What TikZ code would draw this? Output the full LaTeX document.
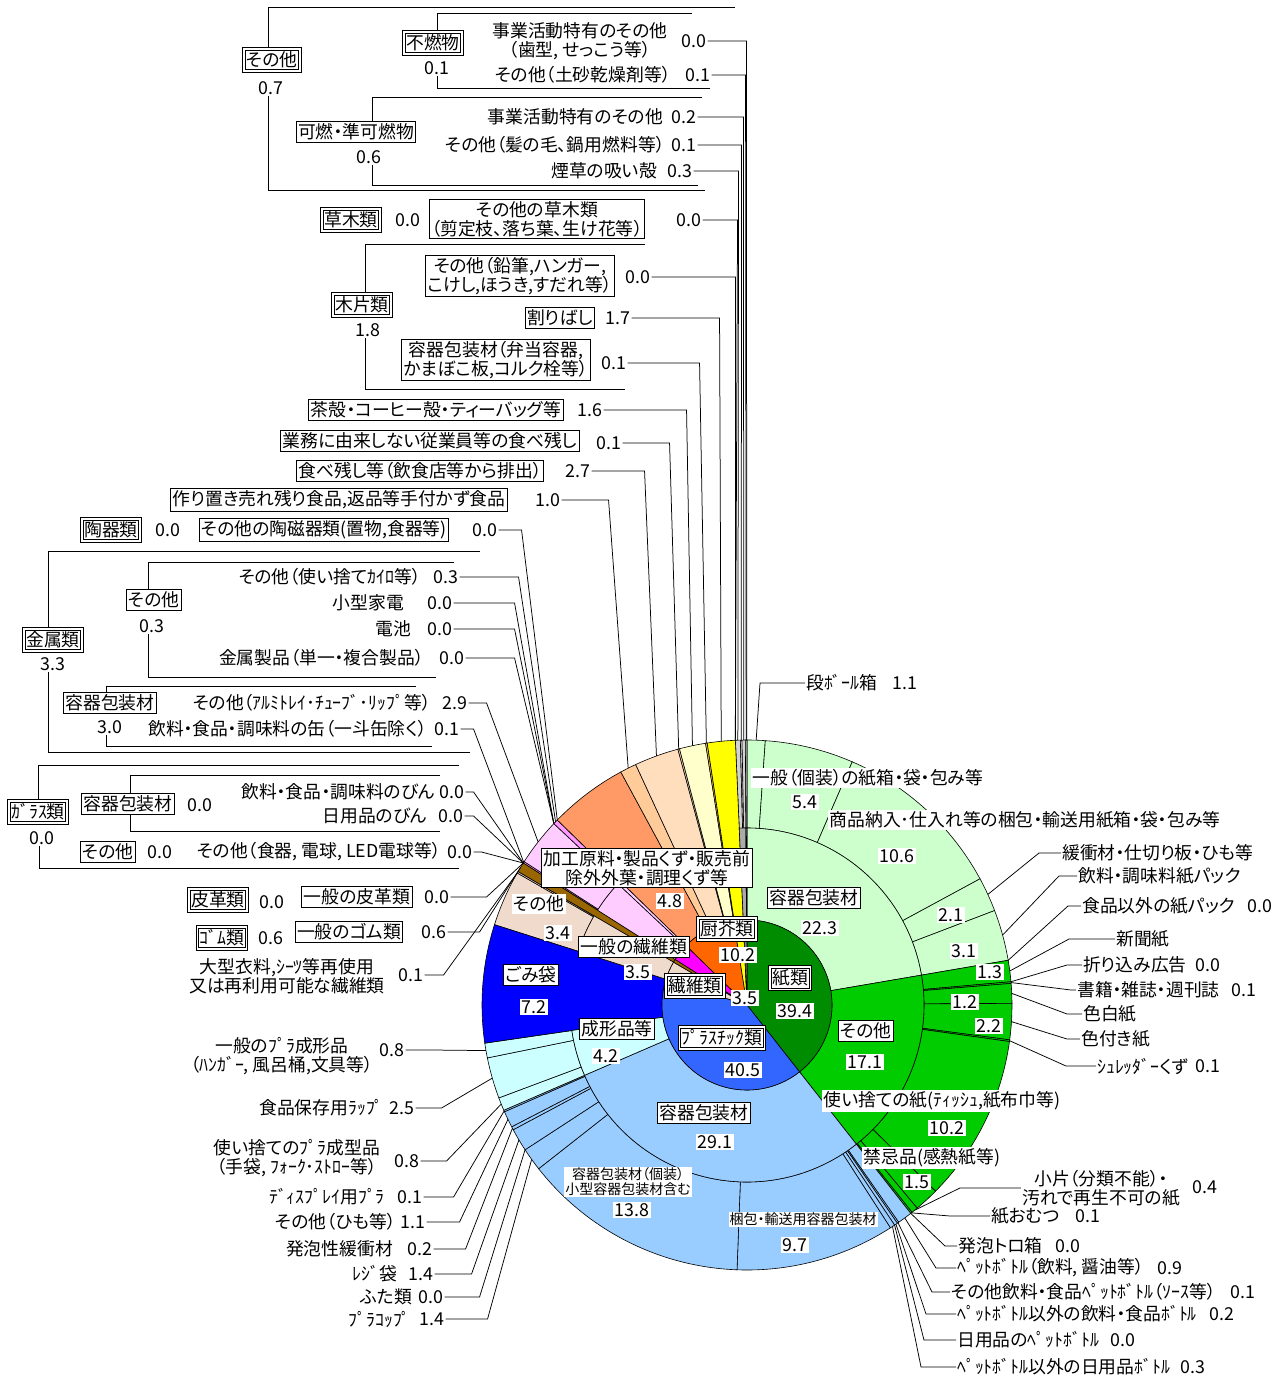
\documentclass[tikz,border=0pt]{standalone}
\usepackage{fontspec}
\setmainfont{Noto Sans CJK JP}[RawFeature=+palt]
\usetikzlibrary{calc}
\newcommand\lfs{\fontsize{17.8pt}{19.2pt}\selectfont}
\newcommand\sfs{\fontsize{14pt}{15pt}\selectfont}
\definecolor{pdark}{RGB}{0,140,0}
\definecolor{pgreen}{RGB}{0,204,0}
\definecolor{plight}{RGB}{204,255,204}
\definecolor{bdark}{RGB}{51,102,255}
\definecolor{blight}{RGB}{153,204,255}
\definecolor{bcyan}{RGB}{204,255,255}
\definecolor{gomi}{RGB}{0,0,255}
\definecolor{fib}{RGB}{240,218,204}
\definecolor{rub}{RGB}{153,102,0}
\definecolor{metI}{RGB}{255,0,255}
\definecolor{metL}{RGB}{255,204,255}
\definecolor{metM}{RGB}{255,153,255}
\definecolor{kitI}{RGB}{255,102,0}
\definecolor{kitA}{RGB}{255,153,102}
\definecolor{kitB}{RGB}{255,204,153}
\definecolor{kitC}{RGB}{255,222,190}
\definecolor{kitD}{RGB}{255,255,204}
\definecolor{wood}{RGB}{255,255,0}
\definecolor{woodB}{RGB}{255,204,102}
\definecolor{othA}{RGB}{128,128,128}
\definecolor{othB}{RGB}{170,170,170}
\definecolor{othC}{RGB}{210,210,210}
\tikzset{
 wl/.style={draw=black,line width=0.6pt},
 ld/.style={draw=black,line width=0.75pt},
 br/.style={draw=black,line width=1pt},
 tx/.style={inner sep=1pt,font=\lfs},
 txc/.style={inner sep=1pt,font=\lfs,align=center},
 bx/.style={draw=black,fill=white,line width=0.9pt,inner sep=2pt,font=\lfs},
 bxc/.style={bx,align=center},
 dbx/.style={draw=black,fill=white,line width=0.9pt,inner xsep=3.6pt,inner ysep=4pt,font=\lfs,
   path picture={\draw[black,line width=0.9pt] ([shift={(2.4pt,-2.4pt)}]path picture bounding box.north west) rectangle ([shift={(-2.4pt,2.4pt)}]path picture bounding box.south east);}},
 wb/.style={fill=white,inner sep=1.5pt,font=\lfs},
 wbs/.style={fill=white,inner sep=1pt,font=\sfs,align=center},
}
\newcommand\pseg[4]{\filldraw[fill=#4,wl] (0,0) -- ({3.6*(#2)-90}:#1) arc[start angle={3.6*(#2)-90},end angle={3.6*(#3)-90},radius=#1] -- cycle;}
\newcommand\rseg[5]{\filldraw[fill=#5,wl] ({3.6*(#3)-90}:#1) arc[start angle={3.6*(#3)-90},end angle={3.6*(#4)-90},radius=#1] -- ({3.6*(#4)-90}:#2) arc[start angle={3.6*(#4)-90},end angle={3.6*(#3)-90},radius=#2] -- cycle;}
\newcommand\tgt[2]{\coordinate (#1) at ({3.6*(#2)-90}:265);}
\begin{document}
\begin{tikzpicture}[x=1pt,y=-1pt]
\useasboundingbox (0,0) rectangle (1284,1381);
\fill[white] (0,0) rectangle (1284,1381);
\begin{scope}[shift={(747,1005)}]
% outer ring
\rseg{177}{265}{0}{1.1}{plight}
\rseg{177}{265}{1.1}{6.5}{plight}
\rseg{177}{265}{6.5}{17.1}{plight}
\rseg{177}{265}{17.1}{19.2}{plight}
\rseg{177}{265}{19.2}{22.3}{plight}
\rseg{177}{265}{22.3}{23.6}{pgreen}
\rseg{177}{265}{23.6}{23.7}{pgreen}
\rseg{177}{265}{23.7}{24.9}{pgreen}
\rseg{177}{265}{24.9}{27.1}{pgreen}
\rseg{177}{265}{27.1}{27.2}{pgreen}
\rseg{177}{265}{27.2}{37.4}{pgreen}
\rseg{177}{265}{37.4}{38.9}{pgreen}
\rseg{177}{265}{38.9}{39.3}{pgreen}
\rseg{177}{265}{39.3}{39.4}{pgreen}
\rseg{177}{265}{39.4}{40.3}{blight}
\rseg{177}{265}{40.3}{40.4}{blight}
\rseg{177}{265}{40.4}{40.6}{blight}
\rseg{177}{265}{40.6}{40.9}{blight}
\rseg{177}{265}{40.9}{50.6}{blight}
\rseg{177}{265}{50.6}{64.4}{blight}
\rseg{177}{265}{64.4}{65.8}{blight}
\rseg{177}{265}{65.8}{67.2}{blight}
\rseg{177}{265}{67.2}{67.4}{blight}
\rseg{177}{265}{67.4}{68.4}{blight}
\rseg{177}{265}{68.4}{68.5}{blight}
\rseg{177}{265}{68.5}{69.3}{bcyan}
\rseg{177}{265}{69.3}{71.8}{bcyan}
\rseg{177}{265}{71.8}{72.7}{bcyan}
\rseg{177}{265}{79.9}{83.3}{fib}
\rseg{177}{265}{83.3}{83.4}{fib}
\rseg{177}{265}{84.0}{84.1}{metM}
\rseg{177}{265}{84.1}{87.0}{metL}
\rseg{177}{265}{87.0}{87.3}{metM}
\rseg{177}{265}{99.3}{99.6}{othC}
\rseg{177}{265}{99.6}{99.7}{othC}
\rseg{177}{265}{99.7}{99.9}{othC}
\rseg{177}{265}{99.9}{100}{othC}
% spanning
\rseg{85}{265}{72.7}{79.9}{gomi}
\rseg{85}{265}{83.4}{84.0}{rub}
\rseg{85}{265}{87.3}{92.1}{kitA}
\rseg{85}{265}{92.1}{93.1}{kitB}
\rseg{85}{265}{93.1}{95.8}{kitC}
\rseg{85}{265}{95.8}{95.9}{kitC}
\rseg{85}{265}{95.9}{97.5}{kitD}
\rseg{85}{265}{97.5}{97.6}{woodB}
\rseg{85}{265}{97.6}{99.3}{wood}
% middle ring
\rseg{85}{177}{0}{22.3}{plight}
\rseg{85}{177}{22.3}{39.4}{pgreen}
\rseg{85}{177}{39.4}{68.5}{blight}
\rseg{85}{177}{68.5}{72.7}{bcyan}
\rseg{85}{177}{79.9}{83.4}{fib}
\rseg{85}{177}{84.0}{87.0}{metL}
\rseg{85}{177}{87.0}{87.3}{metL}
\rseg{85}{177}{99.3}{99.9}{othB}
\rseg{85}{177}{99.9}{100}{othB}
% inner pie
\pseg{85}{0}{39.4}{pdark}
\pseg{85}{39.4}{79.9}{bdark}
\pseg{85}{79.9}{83.4}{fib}
\pseg{85}{83.4}{84.0}{rub}
\pseg{85}{84.0}{87.3}{metI}
\pseg{85}{87.3}{97.5}{kitI}
\pseg{85}{97.5}{99.3}{wood}
\pseg{85}{99.3}{100}{othA}
% leader targets
\tgt{tA1}{99.98}\tgt{tA2}{99.95}\tgt{tA3}{99.8}\tgt{tA4}{99.65}\tgt{tA5}{99.45}
\tgt{tA6}{99.3}\tgt{tA7}{99.3}\tgt{tA8}{98.45}\tgt{tA9}{97.55}\tgt{tA10}{96.7}
\tgt{tA11}{95.85}\tgt{tA12}{94.45}\tgt{tA13}{92.6}\tgt{tA14}{87.3}
\tgt{tM1}{87.15}\tgt{tM2}{87.0}\tgt{tM3}{87.0}\tgt{tM4}{87.0}\tgt{tM5}{85.55}\tgt{tM6}{84.05}
\tgt{tG1}{84.0}\tgt{tG2}{84.0}\tgt{tG3}{84.0}\tgt{tL}{84.0}\tgt{tR}{83.7}\tgt{tF}{83.35}
\tgt{tP1}{72.25}\tgt{tP2}{70.55}\tgt{tP3}{68.9}\tgt{tP4}{68.45}\tgt{tP5}{67.9}
\tgt{tP6}{67.3}\tgt{tP7}{66.5}\tgt{tP8}{65.8}\tgt{tP9}{65.1}
\tgt{tK1}{0.55}\tgt{tK2}{18.15}\tgt{tK3}{20.75}\tgt{tK4}{22.3}\tgt{tK5}{22.95}
\tgt{tK6}{23.6}\tgt{tK7}{23.65}\tgt{tK8}{24.3}\tgt{tK9}{26.0}\tgt{tK10}{27.15}
\tgt{tK11}{39.1}\tgt{tK12}{39.35}
\tgt{tB1}{39.4}\tgt{tB2}{39.85}\tgt{tB3}{40.35}\tgt{tB4}{40.5}\tgt{tB5}{40.6}\tgt{tB6}{40.75}
\end{scope}

% ===== left labels: top group
\node[txc] (a1) at (580,41) {事業活動特有のその他\\（歯型, せっこう等）};
\node[tx] (a1n) at (694,41) {0.0};
\node[tx,anchor=east] (a2) at (672,75) {その他（土砂乾燥剤等）};
\node[tx] (a2n) at (698,75) {0.1};
\node[dbx] (g1) at (272,60) {その他};
\node[tx] (g1n) at (271,88) {0.7};
\node[dbx] (g2) at (433,43) {不燃物};
\node[tx] (g2n) at (437,68) {0.1};
\node[bx] (g3) at (356,132) {可燃・準可燃物};
\node[tx] (g3n) at (369,157) {0.6};
\node[tx,anchor=east] (a3) at (664,117) {事業活動特有のその他};
\node[tx] (a3n) at (684,117) {0.2};
\node[tx,anchor=east] (a4) at (666,145) {その他（髪の毛、鍋用燃料等）};
\node[tx] (a4n) at (684,145) {0.1};
\node[tx,anchor=east] (a5) at (658,171) {煙草の吸い殻};
\node[tx] (a5n) at (680,171) {0.3};
\node[dbx] (g4) at (351,220) {草木類};
\node[tx] (g4n) at (408,220) {0.0};
\node[bxc] (a6) at (537,219) {その他の草木類\\（剪定枝、落ち葉、生け花等）};
\node[tx] (a6n) at (689,220) {0.0};
\node[dbx] (g5) at (362,305) {木片類};
\node[tx] (g5n) at (368,330) {1.8};
\node[bxc] (a7) at (520,276) {その他（鉛筆,ハンガー,\\こけし,ほうき,すだれ等）};
\node[tx] (a7n) at (638,277) {0.0};
\node[bx] (a8) at (560,318) {割りばし};
\node[tx] (a8n) at (618,318) {1.7};
\node[bxc] (a9) at (496,360) {容器包装材（弁当容器,\\かまぼこ板,コルク栓等）};
\node[tx] (a9n) at (614,363) {0.1};
\node[bx] (a10) at (436,410) {茶殻・コーヒー殻・ティーバッグ等};
\node[tx] (a10n) at (590,410) {1.6};
\node[bx] (a11) at (430,441) {業務に由来しない従業員等の食べ残し};
\node[tx] (a11n) at (609,443) {0.1};
\node[bx] (a12) at (420,471) {食べ残し等（飲食店等から排出）};
\node[tx] (a12n) at (578,471) {2.7};
\node[bx] (a13) at (339,500) {作り置き売れ残り食品,返品等手付かず食品};
\node[tx] (a13n) at (548,500) {1.0};
\node[dbx] (g6) at (111,530) {陶器類};
\node[tx] (g6n) at (168,530) {0.0};
\node[bx] (a14) at (324,530) {その他の陶磁器類(置物,食器等)};
\node[tx] (a14n) at (485,530) {0.0};
% metal
\node[dbx] (g7) at (53,640) {金属類};
\node[tx] (g7n) at (53,664) {3.3};
\node[bx] (g8) at (154,600) {その他};
\node[tx] (g8n) at (152,626) {0.3};
\node[tx,anchor=east] (m1) at (422,577) {その他（使い捨てｶｲﾛ等）};
\node[tx] (m1n) at (446,577) {0.3};
\node[tx,anchor=east] (m2) at (405,603) {小型家電};
\node[tx] (m2n) at (440,603) {0.0};
\node[tx,anchor=east] (m3) at (412,629) {電池};
\node[tx] (m3n) at (440,629) {0.0};
\node[tx,anchor=east] (m4) at (425,658) {金属製品（単一・複合製品）};
\node[tx] (m4n) at (452,658) {0.0};
\node[bx] (g9) at (110,703) {容器包装材};
\node[tx] (g9n) at (110,727) {3.0};
\node[tx,anchor=east] (m5) at (432,703) {その他（ｱﾙﾐﾄﾚｲ･ﾁｭｰﾌﾞ･ﾘｯﾌﾟ等）};
\node[tx] (m5n) at (455,703) {2.9};
\node[tx,anchor=east] (m6) at (428,729) {飲料・食品・調味料の缶（一斗缶除く）};
\node[tx] (m6n) at (447,729) {0.1};
% glass
\node[dbx] (g10) at (38,812) {ｶﾞﾗｽ類};
\node[tx] (g10n) at (42,838) {0.0};
\node[bx] (g11) at (128,804) {容器包装材};
\node[tx] (g11n) at (200,805) {0.0};
\node[tx,anchor=east] (v1) at (436,792) {飲料・食品・調味料のびん};
\node[tx] (v1n) at (452,792) {0.0};
\node[tx,anchor=east] (v2) at (428,816) {日用品のびん};
\node[tx] (v2n) at (451,816) {0.0};
\node[bx] (g12) at (108,852) {その他};
\node[tx] (g12n) at (160,852) {0.0};
\node[tx,anchor=east] (v3) at (442,852) {その他（食器, 電球, LED電球等）};
\node[tx] (v3n) at (460,852) {0.0};
% leather, rubber, fibre
\node[dbx] (g13) at (218,900) {皮革類};
\node[tx] (g13n) at (272,902) {0.0};
\node[bx] (r1) at (357,897) {一般の皮革類};
\node[tx] (r1n) at (437,897) {0.0};
\node[dbx] (g14) at (222,938) {ｺﾞﾑ類};
\node[tx] (g14n) at (271,938) {0.6};
\node[bx] (r2) at (349,932) {一般のゴム類};
\node[tx] (r2n) at (434,932) {0.6};
\node[txc] (r3) at (287,976) {大型衣料,ｼｰﾂ等再使用\\又は再利用可能な繊維類};
\node[tx] (r3n) at (411,975) {0.1};
% plastics left
\node[txc] (p1) at (282,1056) {一般のﾌﾟﾗ成形品\\（ﾊﾝｶﾞｰ, 風呂桶,文具等）};
\node[tx] (p1n) at (392,1050) {0.8};
\node[tx,anchor=east] (p2) at (385,1108) {食品保存用ﾗｯﾌﾟ};
\node[tx] (p2n) at (402,1108) {2.5};
\node[txc] (p3) at (297,1158) {使い捨てのﾌﾟﾗ成型品\\（手袋, ﾌｫｰｸ･ｽﾄﾛｰ等）};
\node[tx] (p3n) at (407,1161) {0.8};
\node[tx,anchor=east] (p4) at (386,1197) {ﾃﾞｨｽﾌﾟﾚｲ用ﾌﾟﾗ};
\node[tx] (p4n) at (410,1197) {0.1};
\node[tx,anchor=east] (p5) at (397,1222) {その他（ひも等）};
\node[tx] (p5n) at (413,1222) {1.1};
\node[tx,anchor=east] (p6) at (394,1249) {発泡性緩衝材};
\node[tx] (p6n) at (420,1249) {0.2};
\node[tx,anchor=east] (p7) at (398,1274) {ﾚｼﾞ袋};
\node[tx] (p7n) at (421,1274) {1.4};
\node[tx,anchor=east] (p8) at (413,1297) {ふた類};
\node[tx] (p8n) at (431,1297) {0.0};
\node[tx,anchor=east] (p9) at (412,1319) {ﾌﾟﾗｺｯﾌﾟ};
\node[tx] (p9n) at (432,1319) {1.4};
% right labels
\node[tx,anchor=west] (k1) at (805,683) {段ﾎﾞｰﾙ箱};
\node[tx] (k1n) at (905,683) {1.1};
\node[tx,anchor=west] (k2) at (1061,853) {緩衝材・仕切り板・ひも等};
\node[tx,anchor=west] (k3) at (1077,876) {飲料・調味料紙パック};
\node[tx,anchor=west] (k4) at (1081,906) {食品以外の紙パック};
\node[tx] (k4n) at (1260,906) {0.0};
\node[tx,anchor=west] (k5) at (1115,939) {新聞紙};
\node[tx,anchor=west] (k6) at (1082,965) {折り込み広告};
\node[tx] (k6n) at (1208,965) {0.0};
\node[tx,anchor=west] (k7) at (1076,990) {書籍・雑誌・週刊誌};
\node[tx] (k7n) at (1244,990) {0.1};
\node[tx,anchor=west] (k8) at (1082,1014) {色白紙};
\node[tx,anchor=west] (k9) at (1080,1039) {色付き紙};
\node[tx,anchor=west] (k10) at (1096,1066) {ｼｭﾚｯﾀﾞｰくず};
\node[tx] (k10n) at (1208,1066) {0.1};
\node[txc] (k11) at (1101,1188) {小片（分類不能）・\\汚れで再生不可の紙};
\node[tx] (k11n) at (1205,1187) {0.4};
\node[tx,anchor=west] (k12) at (990,1216) {紙おむつ};
\node[tx] (k12n) at (1088,1216) {0.1};
\node[tx,anchor=west] (b1) at (957,1246) {発泡トロ箱};
\node[tx] (b1n) at (1068,1246) {0.0};
\node[tx,anchor=west] (b2) at (956,1268) {ﾍﾟｯﾄﾎﾞﾄﾙ（飲料, 醤油等）};
\node[tx] (b2n) at (1170,1268) {0.9};
\node[tx,anchor=west] (b3) at (950,1292) {その他飲料・食品ﾍﾟｯﾄﾎﾞﾄﾙ（ｿｰｽ等）};
\node[tx] (b3n) at (1243,1292) {0.1};
\node[tx,anchor=west] (b4) at (956,1314) {ﾍﾟｯﾄﾎﾞﾄﾙ以外の飲料・食品ﾎﾞﾄﾙ};
\node[tx] (b4n) at (1222,1314) {0.2};
\node[tx,anchor=west] (b5) at (956,1340) {日用品のﾍﾟｯﾄﾎﾞﾄﾙ};
\node[tx] (b5n) at (1123,1340) {0.0};
\node[tx,anchor=west] (b6) at (956,1367) {ﾍﾟｯﾄﾎﾞﾄﾙ以外の日用品ﾎﾞﾄﾙ};
\node[tx] (b6n) at (1193,1367) {0.3};

% ===== brackets
\draw[br] ([xshift=-4pt]g1.north) |- (735,8);
\draw[br] ([xshift=-3pt]g1n.south) |- (705,190);
\draw[br] ([xshift=4pt]g2.north) |- (692,14);
\draw[br] (g2n.south) |- (710,88);
\draw[br] ([xshift=16pt]g3.north) |- (702,97);
\draw[br] ([xshift=3pt]g3n.south) |- (698,185);
\draw[br] ([xshift=3pt]g5.north) |- (645,244);
\draw[br] ([xshift=-3pt]g5n.south) |- (625,389);
\draw[br] ([xshift=-5pt]g7.north) |- (480,551);
\draw[br] ([xshift=-5pt]g7n.south) |- (470,752);
\draw[br] ([xshift=-6pt]g8.north) |- (454,562);
\draw[br] ([xshift=-4pt]g8n.south) |- (436,677);
\draw[br] ([xshift=-4pt]g9.north) |- (416,686);
\draw[br] ([xshift=-4pt]g9n.south) |- (432,746);
\draw[br] (g10.north) |- (459,765);
\draw[br] ([xshift=-3pt]g10n.south) |- (459,868);
\draw[br] ([xshift=2pt]g11.north) |- (440,775);
\draw[br] ([xshift=2pt]g11.south) |- (440,831);

% ===== leader lines
\draw[ld] (a1n.east) -- ++(39,0) -- (tA1);
\draw[ld] (a2n.east) -- ++(34,0) -- (tA2);
\draw[ld] (a3n.east) -- ++(46,0) -- (tA3);
\draw[ld] (a4n.east) -- ++(44,0) -- (tA4);
\draw[ld] (a5n.east) -- ++(45,0) -- (tA5);
\draw[ld] (a6n.east) -- ++(35,0) -- (tA6);
\draw[ld] (a7n.east) -- ++(84,0) -- (tA7);
\draw[ld] (a8n.east) -- ++(88,0) -- (tA8);
\draw[ld] (a9n.east) -- ++(72,0) -- (tA9);
\draw[ld] (a10n.east) -- ++(83,0) -- (tA10);
\draw[ld] (a11n.east) -- ++(47,0) -- (tA11);
\draw[ld] (a12n.east) -- ++(53,0) -- (tA12);
\draw[ld] (a13n.east) -- ++(47,0) -- (tA13);
\draw[ld] (a14n.east) -- ++(23,0) -- (tA14);
\draw[ld] (m1n.east) -- ++(59,0) -- (tM1);
\draw[ld] (m2n.east) -- ++(61,0) -- (tM2);
\draw[ld] (m3n.east) -- ++(61,0) -- (tM3);
\draw[ld] (m4n.east) -- ++(49,0) -- (tM4);
\draw[ld] (m5n.east) -- ++(18,0) -- (tM5);
\draw[ld] (m6n.east) -- ++(13,0) -- (tM6);
\draw[ld] (v1n.east) -- ++(8,0) -- (tG1);
\draw[ld] (v2n.east) -- ++(9,0) -- (tG2);
\draw[ld] (v3n.east) -- ++(8,0) -- (tG3);
\draw[ld] (r1n.east) -- ++(36,0) -- (tL);
\draw[ld] (r2n.east) -- ++(32,0) -- (tR);
\draw[ld] (r3n.east) -- ++(19,0) -- (tF);
\draw[ld] (p1n.east) -- ++(26,0) -- (tP1);
\draw[ld] (p2n.east) -- ++(26,0) -- (tP2);
\draw[ld] (p3n.east) -- ++(26,0) -- (tP3);
\draw[ld] (p4n.east) -- ++(30,0) -- (tP4);
\draw[ld] (p5n.east) -- ++(33,0) -- (tP5);
\draw[ld] (p6n.east) -- ++(32,0) -- (tP6);
\draw[ld] (p7n.east) -- ++(37,0) -- (tP7);
\draw[ld] (p8n.east) -- ++(35,0) -- (tP8);
\draw[ld] (p9n.east) -- ++(42,0) -- (tP9);
\draw[ld] (k1.west) -- ++(-45,0) -- (tK1);
\draw[ld] (k2.west) -- ++(-22,0) -- (tK2);
\draw[ld] (k3.west) -- ++(-18,0) -- (tK3);
\draw[ld] (k4.west) -- ++(-13,0) -- (tK4);
\draw[ld] (k5.west) -- ++(-46,0) -- (tK5);
\draw[ld] (k6.west) -- ++(-15,0) -- (tK6);
\draw[ld] (k7.west) -- ++(-5,0) -- (tK7);
\draw[ld] (k8.west) -- ++(-15,0) -- (tK8);
\draw[ld] (k9.west) -- ++(-13,0) -- (tK9);
\draw[ld] (k10.west) -- ++(-30,0) -- (tK10);
\draw[ld] (k11.west) -- ++(-61,0) -- (tK11);
\draw[ld] (k12.west) -- ++(-40,0) -- (tK12);
\draw[ld] (b1.west) -- ++(-12,0) -- (tB1);
\draw[ld] (b2.west) -- ++(-20,0) -- (tB2);
\draw[ld] (b3.west) -- ++(-18,0) -- (tB3);
\draw[ld] (b4.west) -- ++(-30,0) -- (tB4);
\draw[ld] (b5.west) -- ++(-32,0) -- (tB5);
\draw[ld] (b6.west) -- ++(-35,0) -- (tB6);

% ===== labels inside the chart
\node[wb] (i1) at (868,778) {一般（個装）の紙箱・袋・包み等};
\node[wb] (i1n) at (805,802) {5.4};
\node[wb] (i2) at (1025,820) {商品納入･仕入れ等の梱包・輸送用紙箱・袋・包み等};
\node[wb] (i2n) at (897,856) {10.6};
\node[bx] (i3) at (814,898) {容器包装材};
\node[wb] (i3n) at (820,928) {22.3};
\node[wb] (i4) at (951,915) {2.1};
\node[wb] (i5) at (964,951) {3.1};
\node[wb] (i6) at (990,972) {1.3};
\node[wb] (i7) at (965,1002) {1.2};
\node[wb] (i8) at (989,1026) {2.2};
\node[dbx] (i9) at (790,978) {紙類};
\node[wb] (i9n) at (795,1011) {39.4};
\node[bx] (i10) at (866,1031) {その他};
\node[wb] (i10n) at (865,1062) {17.1};
\node[wb] (i11) at (942,1101) {使い捨ての紙(ﾃｨｯｼｭ,紙布巾等)};
\node[wb] (i11n) at (947,1128) {10.2};
\node[wb] (i12) at (932,1158) {禁忌品(感熱紙等)};
\node[wb] (i12n) at (917,1182) {1.5};
\node[dbx] (i13) at (722,1038) {ﾌﾟﾗｽﾁｯｸ類};
\node[wb] (i13n) at (743,1070) {40.5};
\node[bx] (i14) at (704,1113) {容器包装材};
\node[wb] (i14n) at (715,1142) {29.1};
\node[wbs] (i15) at (628,1182) {容器包装材（個装）\\小型容器包装材含む};
\node[wb] (i15n) at (632,1210) {13.8};
\node[wbs] (i16) at (803,1219) {梱包・輸送用容器包装材};
\node[wb] (i16n) at (795,1245) {9.7};
\node[bx] (i17) at (617,1029) {成形品等};
\node[wb] (i17n) at (606,1056) {4.2};
\node[bx] (i18) at (531,975) {ごみ袋};
\node[wb] (i18n) at (534,1007) {7.2};
\node[dbx] (i19) at (695,986) {繊維類};
\node[wb] (i19n) at (745,998) {3.5};
\node[bx] (i20) at (634,947) {一般の繊維類};
\node[wb] (i20n) at (638,972) {3.5};
\node[wb] (i21) at (539,904) {その他};
\node[wb] (i21n) at (558,933) {3.4};
\node[bxc] (i22) at (647,868) {加工原料・製品くず・販売前\\除外外葉・調理くず等};
\node[wb] (i22n) at (670,901) {4.8};
\node[dbx] (i23) at (727,929) {厨芥類};
\node[wb] (i23n) at (738,955) {10.2};
\end{tikzpicture}
\end{document}
